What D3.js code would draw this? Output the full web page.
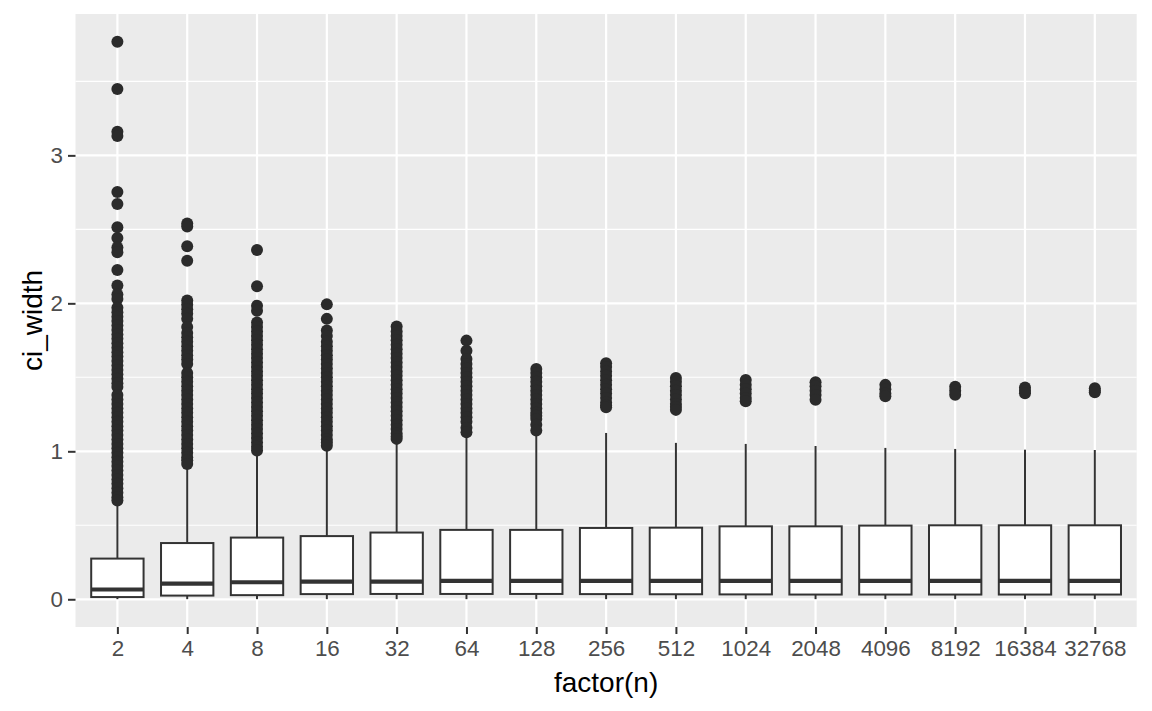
<!DOCTYPE html>
<html>
<head>
<meta charset="utf-8">
<script src="https://cdn.jsdelivr.net/npm/d3@7"></script>
<style>
  body { margin: 0; background: #fff; }
</style>
</head>
<body>
<script>
const width = 1152;
const height = 711;
const margin = { top: 14, right: 15.3, bottom: 84, left: 75.5 };

const categories = ['2', '4', '8', '16', '32', '64', '128', '256', '512', '1024', '2048', '4096', '8192', '16384', '32768'];

const lowerWhisker = [0.001, 0.001, 0.001, 0.001, 0.001, 0.001, 0.001, 0.001, 0.001, 0.001, 0.001, 0.001, 0.001, 0.001, 0.001];
const lowerHinge = [0.015, 0.025, 0.028, 0.035, 0.036, 0.036, 0.036, 0.035, 0.034, 0.033, 0.032, 0.032, 0.032, 0.032, 0.032];
const medians = [0.066, 0.106, 0.115, 0.12, 0.12, 0.124, 0.124, 0.124, 0.124, 0.124, 0.124, 0.124, 0.124, 0.124, 0.124];
const upperHinge = [0.275, 0.38, 0.417, 0.427, 0.451, 0.469, 0.469, 0.482, 0.484, 0.493, 0.493, 0.498, 0.5, 0.5, 0.5];
const upperWhisker = [0.655, 0.9, 0.99, 1.025, 1.075, 1.12, 1.13, 1.124, 1.057, 1.05, 1.036, 1.023, 1.016, 1.011, 1.009];

// outliers, dense runs typed at roughly the dot spacing
const outliers = [
  [3.767, 3.449, 3.16, 3.13, 2.753, 2.672, 2.514, 2.442, 2.378, 2.345, 2.226, 2.12, 2.059, 2.03,
   1.97, 1.94, 1.91, 1.88, 1.85, 1.82, 1.79, 1.76, 1.73, 1.70, 1.67, 1.64, 1.61, 1.58, 1.55, 1.52,
   1.49, 1.46, 1.435, 1.38, 1.35, 1.32, 1.29, 1.26, 1.23, 1.20, 1.17, 1.14, 1.11, 1.08, 1.05, 1.02,
   0.99, 0.96, 0.93, 0.90, 0.87, 0.84, 0.81, 0.78, 0.75, 0.72, 0.69, 0.667],
  [2.54, 2.52, 2.385, 2.288, 2.02, 1.99, 1.96, 1.93, 1.895, 1.84, 1.80, 1.77, 1.74, 1.71, 1.68,
   1.65, 1.62, 1.59, 1.53, 1.50, 1.47, 1.44, 1.41, 1.38, 1.35, 1.32, 1.29, 1.26, 1.23, 1.20, 1.17,
   1.14, 1.11, 1.08, 1.05, 1.02, 0.99, 0.96, 0.94, 0.915],
  [2.36, 2.115, 1.984, 1.95, 1.87, 1.84, 1.81, 1.78, 1.75, 1.72, 1.69, 1.66, 1.63, 1.60, 1.57,
   1.54, 1.51, 1.48, 1.45, 1.42, 1.39, 1.36, 1.33, 1.30, 1.27, 1.24, 1.21, 1.18, 1.15, 1.12, 1.09,
   1.06, 1.03, 1.005],
  [1.993, 1.895, 1.816, 1.78, 1.74, 1.71, 1.68, 1.65, 1.62, 1.59, 1.56, 1.53, 1.50, 1.47, 1.44,
   1.41, 1.38, 1.35, 1.32, 1.29, 1.26, 1.23, 1.20, 1.17, 1.14, 1.11, 1.08, 1.06, 1.038],
  [1.843, 1.81, 1.78, 1.75, 1.72, 1.69, 1.66, 1.63, 1.60, 1.57, 1.54, 1.51, 1.48, 1.45, 1.42,
   1.39, 1.36, 1.33, 1.30, 1.27, 1.24, 1.21, 1.18, 1.15, 1.12, 1.10, 1.084],
  [1.748, 1.68, 1.624, 1.59, 1.56, 1.53, 1.50, 1.47, 1.44, 1.41, 1.38, 1.35, 1.32, 1.29, 1.26,
   1.23, 1.20, 1.16, 1.128],
  [1.557, 1.53, 1.50, 1.47, 1.44, 1.41, 1.38, 1.35, 1.32, 1.29, 1.26, 1.24, 1.219, 1.18, 1.14],
  [1.595, 1.57, 1.54, 1.51, 1.48, 1.45, 1.42, 1.39, 1.36, 1.33, 1.31, 1.297],
  [1.496, 1.47, 1.44, 1.41, 1.38, 1.35, 1.32, 1.30, 1.28],
  [1.482, 1.45, 1.42, 1.39, 1.36, 1.338],
  [1.466, 1.44, 1.41, 1.38, 1.349],
  [1.449, 1.42, 1.39, 1.372],
  [1.437, 1.41, 1.383],
  [1.432, 1.41, 1.392],
  [1.426, 1.41, 1.399]
];

const yTicks = [0, 1, 2, 3];
const yMinorTicks = [0.5, 1.5, 2.5, 3.5];

const style = {
  panel: '#EBEBEB',
  grid: '#FFFFFF',
  box: '#333333',
  tickText: '#4D4D4D',
  title: '#000000'
};

const boxes = categories.map((c, i) => ({
  cat: c,
  lo: lowerWhisker[i],
  q1: lowerHinge[i],
  med: medians[i],
  q3: upperHinge[i],
  hi: upperWhisker[i],
  out: outliers[i]
}));

// ggplot style 5% expansion of the data range
const allValues = boxes.flatMap(b => [b.lo, b.hi, ...b.out]);
const [vMin, vMax] = d3.extent(allValues);
const pad = (vMax - vMin) * 0.05;

const x = d3.scalePoint()
  .domain(categories)
  .range([margin.left, width - margin.right])
  .padding(0.6);

const y = d3.scaleLinear()
  .domain([vMin - pad, vMax + pad])
  .range([height - margin.bottom, margin.top]);

const boxWidth = x.step() * 0.75;

const svg = d3.create('svg')
  .attr('width', width)
  .attr('height', height)
  .attr('font-family', '"Liberation Sans", Arial, Helvetica, sans-serif');

svg.append('rect')
  .attr('x', margin.left)
  .attr('y', margin.top)
  .attr('width', width - margin.right - margin.left)
  .attr('height', height - margin.bottom - margin.top)
  .attr('fill', style.panel);

// grid
svg.append('g')
  .selectAll('line')
  .data(yMinorTicks)
  .join('line')
  .attr('x1', margin.left)
  .attr('x2', width - margin.right)
  .attr('y1', d => y(d))
  .attr('y2', d => y(d))
  .attr('stroke', style.grid)
  .attr('stroke-width', 1.1);

svg.append('g')
  .selectAll('line')
  .data(yTicks)
  .join('line')
  .attr('x1', margin.left)
  .attr('x2', width - margin.right)
  .attr('y1', d => y(d))
  .attr('y2', d => y(d))
  .attr('stroke', style.grid)
  .attr('stroke-width', 2.2);

svg.append('g')
  .selectAll('line')
  .data(categories)
  .join('line')
  .attr('x1', d => x(d))
  .attr('x2', d => x(d))
  .attr('y1', margin.top)
  .attr('y2', height - margin.bottom)
  .attr('stroke', style.grid)
  .attr('stroke-width', 2.2);

// boxplots
const g = svg.append('g')
  .selectAll('g')
  .data(boxes)
  .join('g');

g.append('line')
  .attr('x1', d => x(d.cat))
  .attr('x2', d => x(d.cat))
  .attr('y1', d => y(d.q3))
  .attr('y2', d => y(d.hi))
  .attr('stroke', style.box)
  .attr('stroke-width', 2);

g.append('line')
  .attr('x1', d => x(d.cat))
  .attr('x2', d => x(d.cat))
  .attr('y1', d => y(d.q1))
  .attr('y2', d => y(d.lo))
  .attr('stroke', style.box)
  .attr('stroke-width', 2);

g.append('rect')
  .attr('x', d => x(d.cat) - boxWidth / 2)
  .attr('y', d => y(d.q3))
  .attr('width', boxWidth)
  .attr('height', d => y(d.q1) - y(d.q3))
  .attr('fill', '#fff')
  .attr('stroke', style.box)
  .attr('stroke-width', 2);

g.append('line')
  .attr('x1', d => x(d.cat) - boxWidth / 2)
  .attr('x2', d => x(d.cat) + boxWidth / 2)
  .attr('y1', d => y(d.med))
  .attr('y2', d => y(d.med))
  .attr('stroke', style.box)
  .attr('stroke-width', 4.2);

g.selectAll('circle')
  .data(d => d.out.map(v => ({ cat: d.cat, v })))
  .join('circle')
  .attr('cx', d => x(d.cat))
  .attr('cy', d => y(d.v))
  .attr('r', 6)
  .attr('fill', '#2b2b2b');

// axes
const xAxis = d3.axisBottom(x)
  .tickSize(7)
  .tickPadding(5.6);

const yAxis = d3.axisLeft(y)
  .tickValues(yTicks)
  .tickFormat(d3.format('d'))
  .tickSize(7.5)
  .tickPadding(5);

const gx = svg.append('g')
  .attr('transform', `translate(0,${height - margin.bottom})`)
  .call(xAxis);

const gy = svg.append('g')
  .attr('transform', `translate(${margin.left},0)`)
  .call(yAxis);

[gx, gy].forEach(a => {
  a.select('.domain').remove();
  a.selectAll('.tick line').attr('stroke', style.box).attr('stroke-width', 2);
  a.selectAll('.tick text')
    .attr('fill', style.tickText)
    .attr('font-size', 22.4);
});

svg.append('text')
  .attr('x', (margin.left + width - margin.right) / 2)
  .attr('y', 692)
  .attr('text-anchor', 'middle')
  .attr('font-size', 28)
  .attr('fill', style.title)
  .text('factor(n)');

svg.append('text')
  .attr('transform', `translate(42,${(margin.top + height - margin.bottom) / 2}) rotate(-90)`)
  .attr('text-anchor', 'middle')
  .attr('font-size', 28)
  .attr('fill', style.title)
  .text('ci_width');

document.querySelector('body').appendChild(svg.node());
</script>
</body>
</html>
